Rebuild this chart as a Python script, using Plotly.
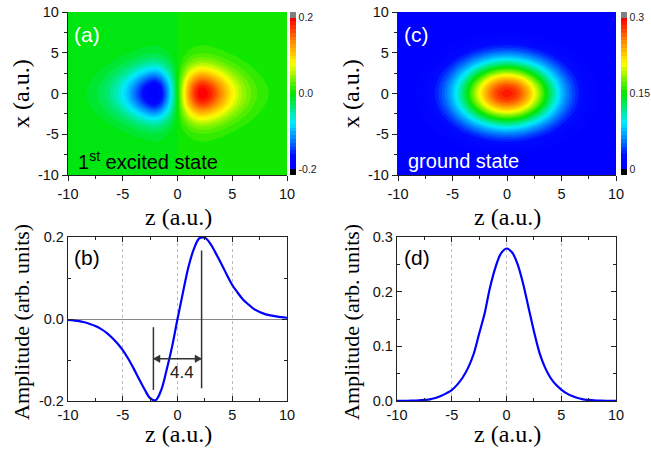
import numpy as np
import plotly.graph_objects as go

W, H = 651, 450

# ---------------- data ----------------
grid = [-10.0, -9.5, -9.0, -8.5, -8.0, -7.5, -7.0, -6.5, -6.0, -5.5, -5.0, -4.5, -4.0, -3.5,
        -3.0, -2.5, -2.0, -1.5, -1.0, -0.5, 0.0, 0.5, 1.0, 1.5, 2.0, 2.5, 3.0, 3.5, 4.0, 4.5,
        5.0, 5.5, 6.0, 6.5, 7.0, 7.5, 8.0, 8.5, 9.0, 9.5, 10.0]

# panel (b): 1st excited state amplitude along z
amp_excited = [-0.0024, -0.0035, -0.005, -0.008, -0.012, -0.017, -0.024, -0.033, -0.045, -0.059,
               -0.076, -0.097, -0.121, -0.147, -0.172, -0.193, -0.198, -0.174, -0.125, -0.068,
               0.0, 0.065, 0.127, 0.171, 0.197, 0.198, 0.184, 0.160, 0.135, 0.108,
               0.083, 0.064, 0.047, 0.035, 0.024, 0.017, 0.012, 0.009, 0.0065, 0.0045, 0.003]

# panel (d): ground state amplitude along z
amp_ground = [0.0001, 0.0002, 0.0004, 0.0007, 0.0012, 0.002, 0.003, 0.0055, 0.009, 0.014,
              0.020, 0.030, 0.043, 0.061, 0.086, 0.123, 0.160, 0.208, 0.245, 0.270,
              0.279, 0.272, 0.251, 0.216, 0.172, 0.128, 0.089, 0.062, 0.043, 0.030,
              0.021, 0.014, 0.009, 0.0055, 0.003, 0.002, 0.0012, 0.0007, 0.0004, 0.0002, 0.0001]

# heatmap (a): relative transverse (x) profile, x = 0, 0.5, ..., 10
xprof_excited_half = [1.0, 0.975, 0.905, 0.80, 0.67, 0.535, 0.41, 0.30, 0.21, 0.145, 0.095,
                      0.066, 0.047, 0.032, 0.020, 0.012, 0.007, 0.004, 0.0025, 0.0015, 0.001]

# heatmap (c): relative z and x profiles, 0, 0.5, ..., 10
zprof_ground_half = [1.0, 0.987, 0.95, 0.89, 0.81, 0.72, 0.63, 0.53, 0.435, 0.35, 0.27,
                     0.205, 0.155, 0.11, 0.078, 0.054, 0.036, 0.023, 0.015, 0.009, 0.0055]
xprof_ground_half = [1.0, 0.984, 0.937, 0.864, 0.771, 0.666, 0.557, 0.451, 0.353, 0.268, 0.197,
                     0.14, 0.096, 0.064, 0.041, 0.026, 0.016, 0.0092, 0.0052, 0.0028, 0.0015]
ground_peak = 0.29

z_ticks = [-10, -5, 0, 5, 10]
z_ticktext = ["-10", "-5", "0", "5", "10"]
b_ticks = [-0.2, 0.0, 0.2]
b_ticktext = ["-0.2", "0.0", "0.2"]
d_ticks = [0.0, 0.1, 0.2, 0.3]
d_ticktext = ["0.0", "0.1", "0.2", "0.3"]
cb_a_ticks = [-0.2, 0.0, 0.2]
cb_a_text = ["-0.2", "0.0", "0.2"]
cb_c_ticks = [0.0, 0.15, 0.3]
cb_c_text = ["0", "0.15", "0.3"]
peak_separation = "4.4"
peak_left, peak_right = -2.2, 2.2
arrow_level = -0.097

# ---------------- derived fields ----------------
def full(half):
    h = list(half)
    return h[:0:-1] + h

xg_a = np.array(full(xprof_excited_half))
field_a = np.outer(xg_a, np.array(amp_excited))
zg_c = np.array(full(zprof_ground_half))
xg_c = np.array(full(xprof_ground_half))
field_c = ground_peak * np.outer(xg_c, zg_c)

# ---------------- colour scales ----------------
jet = [(0.0, (0, 0, 255)), (0.08, (0, 10, 255)), (0.18, (0, 120, 255)), (0.3, (0, 235, 255)),
       (0.5, (0, 230, 0)), (0.7, (255, 255, 0)), (0.86, (255, 130, 0)), (1.0, (255, 0, 0))]

def band_scale(nbands):
    # levels: lo-step ... hi+step  -> bands k = 0..nbands+3 sampled at k/(nbands+3)
    n = nbands + 3
    sc = [[0.0, "rgb(0,0,0)"], [1.5 / n, "rgb(0,0,0)"]]
    for t, c in jet:
        f = (2 + t * (nbands - 1)) / n
        sc.append([f, "rgb(%d,%d,%d)" % c])
    sc.append([(nbands + 1.5) / n, "rgb(128,128,128)"])
    sc.append([1.0, "rgb(128,128,128)"])
    return sc

def px(x):
    return x / W

def py(y):
    return 1 - y / H

SANS = "Liberation Sans, Arial, sans-serif"
SERIF = "Liberation Serif, Times New Roman, serif"
AXC = "#222"

fig = go.Figure()

def colorbar(xpix, vals, text):
    return dict(x=px(xpix), xanchor="left", y=py(12), yanchor="top", len=163 / H,
                thickness=6, xpad=0, ypad=0, outlinewidth=0, ticks="",
                tickvals=vals, ticktext=text,
                tickfont=dict(family=SANS, size=10.5, color="#222"))

fig.add_trace(go.Contour(
    x=grid, y=grid, z=field_a, xaxis="x", yaxis="y",
    contours=dict(start=-0.21, end=0.21, size=0.01, coloring="fill", showlines=False),
    line=dict(width=0, smoothing=1.0),
    colorscale=band_scale(40),
    colorbar=colorbar(290, cb_a_ticks, cb_a_text),
    hoverinfo="skip"))

fig.add_trace(go.Contour(
    x=grid, y=grid, z=field_c, xaxis="x2", yaxis="y2",
    contours=dict(start=-0.0075, end=0.3075, size=0.0075, coloring="fill", showlines=False),
    line=dict(width=0, smoothing=1.0),
    colorscale=band_scale(40),
    colorbar=colorbar(621, cb_c_ticks, cb_c_text),
    hoverinfo="skip"))

fig.add_trace(go.Scatter(x=grid, y=amp_excited, xaxis="x3", yaxis="y3", mode="lines",
                         line=dict(color="#0000ff", width=2.2, shape="spline"),
                         showlegend=False))
fig.add_trace(go.Scatter(x=grid, y=amp_ground, xaxis="x4", yaxis="y4", mode="lines",
                         line=dict(color="#0000ff", width=2.2, shape="spline"),
                         showlegend=False))

tickfont = dict(family=SANS, size=14.5, color="#111")
minor_z = [-7.5, -2.5, 2.5, 7.5]

def heat_axes(dom_x, dom_y, anchor_x, anchor_y):
    common = dict(range=[-10, 10], tickvals=z_ticks, ticktext=z_ticktext,
                  ticks="outside", ticklen=5, tickwidth=1.2, tickcolor=AXC, showline=True,
                  linecolor=AXC, linewidth=1.3, showgrid=False, zeroline=False, tickfont=tickfont,
                  minor=dict(tickvals=minor_z, ticks="outside", ticklen=3, tickcolor=AXC))
    ax = dict(domain=dom_x, anchor=anchor_y, **common)
    ay = dict(domain=dom_y, anchor=anchor_x, **common)
    return ax, ay

def line_axes(dom_x, dom_y, anchor_x, anchor_y, yr, yt, ytt, yminor, zero):
    ax = dict(domain=dom_x, anchor=anchor_y, range=[-10, 10], tickvals=z_ticks, ticktext=z_ticktext,
              ticks="inside", ticklen=5, tickwidth=1.2, tickcolor=AXC, showline=True, mirror="ticks",
              linecolor=AXC, linewidth=1.3, showgrid=True, gridcolor="#bbbbbb", griddash="dot",
              gridwidth=1, zeroline=False, tickfont=tickfont,
              minor=dict(tickvals=minor_z, ticks="inside", ticklen=3, tickcolor=AXC))
    ay = dict(domain=dom_y, anchor=anchor_x, range=yr, tickvals=yt, ticktext=ytt,
              ticks="inside", ticklen=5, tickwidth=1.2, tickcolor=AXC, showline=True, mirror="ticks",
              linecolor=AXC, linewidth=1.3, showgrid=False, zeroline=zero, zerolinecolor="#888",
              zerolinewidth=1.2, tickfont=tickfont,
              minor=dict(tickvals=yminor, ticks="inside", ticklen=3, tickcolor=AXC))
    return ax, ay

xa, ya = heat_axes([px(68), px(287)], [py(175), py(12)], "x", "y")
xc, yc = heat_axes([px(398), px(616)], [py(175), py(12)], "x2", "y2")
xb, yb = line_axes([px(68), px(287)], [py(401), py(237)], "x3", "y3", [-0.2, 0.2],
                   b_ticks, b_ticktext, [-0.1, 0.1], True)
xd, yd = line_axes([px(397), px(616)], [py(401), py(237)], "x4", "y4", [0, 0.3],
                   d_ticks, d_ticktext, [0.05, 0.15, 0.25], False)

fig.update_layout(
    width=W, height=H, margin=dict(l=0, r=0, t=0, b=0, autoexpand=False),
    paper_bgcolor="white", plot_bgcolor="white", showlegend=False,
    xaxis=xa, yaxis=ya, xaxis2=xc, yaxis2=yc, xaxis3=xb, yaxis3=yb, xaxis4=xd, yaxis4=yd,
)

# markers of the peak separation in (b)
LC = "#333"
fig.add_shape(type="line", xref="x3", yref="y3", x0=peak_left, x1=peak_left, y0=-0.173, y1=-0.02,
              line=dict(color=LC, width=1.5))
fig.add_shape(type="line", xref="x3", yref="y3", x0=peak_right, x1=peak_right, y0=-0.169, y1=0.167,
              line=dict(color=LC, width=1.5))
fig.add_shape(type="line", xref="x3", yref="y3", x0=peak_left, x1=peak_right,
              y0=arrow_level, y1=arrow_level, line=dict(color=LC, width=1.5))
hw, hh = 0.6, 0.009  # arrow head length (z units) and half height (amplitude units)
fig.add_shape(type="path", xref="x3", yref="y3",
              path="M %g,%g L %g,%g L %g,%g Z" % (peak_left, arrow_level, peak_left + hw,
                                                  arrow_level + hh, peak_left + hw, arrow_level - hh),
              fillcolor=LC, line=dict(color=LC, width=0.5))
fig.add_shape(type="path", xref="x3", yref="y3",
              path="M %g,%g L %g,%g L %g,%g Z" % (peak_right, arrow_level, peak_right - hw,
                                                  arrow_level + hh, peak_right - hw, arrow_level - hh),
              fillcolor=LC, line=dict(color=LC, width=0.5))
fig.add_annotation(x=0.4, y=arrow_level - 0.006, xref="x3", yref="y3", text=peak_separation,
                   showarrow=False, xanchor="center", yanchor="top",
                   font=dict(family=SANS, size=17, color="#222"))

def ann(x, y, text, size, color, family, xanchor="left", angle=0):
    fig.add_annotation(x=px(x), y=py(y), xref="paper", yref="paper", text=text, showarrow=False,
                       xanchor=xanchor, yanchor="middle", textangle=angle,
                       font=dict(family=family, size=size, color=color))

ann(72, 34, "(a)", 21, "white", SANS)
ann(402, 34, "(c)", 21, "white", SANS)
ann(72, 257, "(b)", 21, "black", SANS)
ann(402, 257, "(d)", 21, "black", SANS)
ann(76, 160, "1<sup>st</sup> excited state", 20, "black", SANS)
ann(406, 161, "ground state", 20, "white", SANS)

# axis titles
ann(178, 217, "z (a.u.)", 24, "black", SERIF, xanchor="center")
ann(507, 217, "z (a.u.)", 24, "black", SERIF, xanchor="center")
ann(178, 434, "z (a.u.)", 24, "black", SERIF, xanchor="center")
ann(507, 434, "z (a.u.)", 24, "black", SERIF, xanchor="center")
ann(21, 94, "x (a.u.)", 24, "black", SERIF, xanchor="center", angle=-90)
ann(351, 94, "x (a.u.)", 24, "black", SERIF, xanchor="center", angle=-90)
ann(21, 322, "Amplitude (arb. units)", 22, "black", SERIF, xanchor="center", angle=-90)
ann(351, 322, "Amplitude (arb. units)", 22, "black", SERIF, xanchor="center", angle=-90)

fig.write_html("out.html", config={"displayModeBar": False},
               post_script="document.body.style.margin='0';")
